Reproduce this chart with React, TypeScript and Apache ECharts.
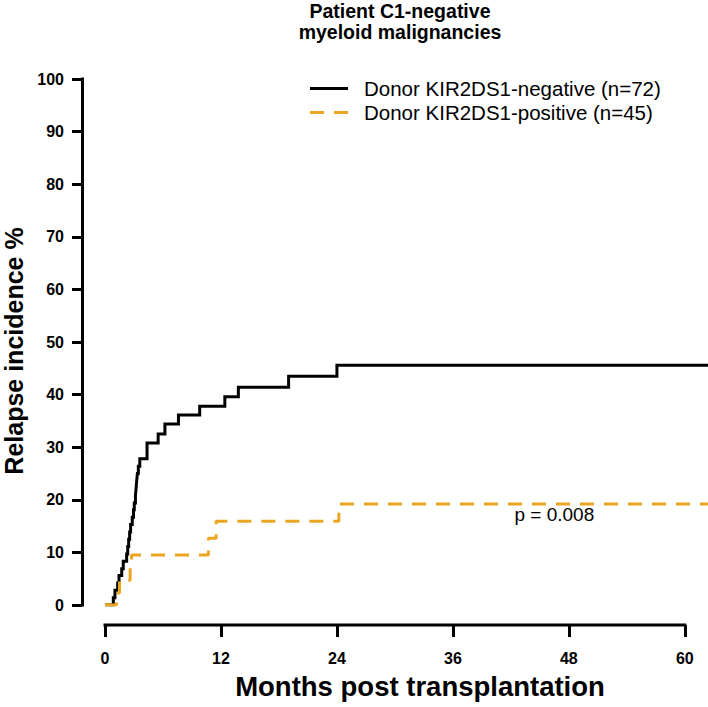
import React, { useEffect, useRef } from "react";
import * as echarts from "echarts";

const titleLines = ["Patient C1-negative", "myeloid malignancies"];
const seriesNames = ["Donor KIR2DS1-negative (n=72)", "Donor KIR2DS1-positive (n=45)"];

const negMonths = [0, 0.86, 1.03, 1.31, 1.45, 1.73, 1.89, 2.24, 2.35, 2.45, 2.55, 2.65, 2.82, 2.95, 3.03, 3.15, 3.22, 3.28, 3.35, 3.45, 3.6, 4.35, 5.5, 6.2, 7.6, 9.8, 12.4, 13.8, 19.0, 24.0, 62.4];
const negValues = [0, 1.4, 2.8, 4.2, 5.6, 6.9, 8.3, 9.7, 11.1, 12.5, 13.9, 15.3, 16.7, 18.1, 19.4, 20.8, 22.2, 23.6, 25.0, 26.4, 27.8, 30.8, 32.5, 34.4, 36.1, 37.8, 39.6, 41.4, 43.5, 45.6, 45.6];

const posMonths = [0, 1.2, 1.5, 2.6, 2.75, 10.7, 11.5, 24.2, 62.4];
const posValues = [0, 2.3, 4.7, 7.1, 9.5, 12.7, 15.9, 19.2, 19.2];

const xTicks = [0, 12, 24, 36, 48, 60];
const xTickStep = 12;
const xDataMax = 62.4;
const yMax = 100;
const yTickStep = 10;
const pValueText = "p = 0.008";
const pValuePos = [46.5, 17.2];

const xTitle = "Months post transplantation";
const yTitle = "Relapse incidence %";

const FONT = "'Liberation Sans', Arial, Helvetica, sans-serif";
const ORANGE = "#EBA521";
const X_AXIS_OFFSET = 20;

export default function App() {
  const ref = useRef<HTMLDivElement>(null);
  useEffect(() => {
    if (!ref.current) return;
    const chart = echarts.init(ref.current, null, { renderer: "svg" });
    const toPairs = (t: number[], v: number[]) => t.map((m, i) => [m, v[i]]);
    const option: any = {
      animation: false,
      backgroundColor: "#ffffff",
      title: {
        text: titleLines.join("\n"),
        left: 395,
        top: -5,
        textAlign: "center",
        textStyle: { fontFamily: FONT, fontSize: 19.5, fontWeight: "bold", color: "#000", lineHeight: 21 },
      },
      legend: {
        orient: "vertical",
        left: 305,
        top: 72,
        itemWidth: 38,
        itemHeight: 3,
        itemGap: 1,
        textStyle: { fontFamily: FONT, fontSize: 20.5, color: "#000", padding: [0, 0, 0, 11], lineHeight: 23 },
        data: [
          { name: seriesNames[0], icon: "path://M0,0H38V3H0Z" },
          { name: seriesNames[1], icon: "path://M0,0H14V3H0Z M24,0H38V3H24Z" },
        ],
      },
      grid: { left: 105, right: 0, top: 79, bottom: 102, outerBoundsMode: "none", containLabel: false },
      xAxis: {
        type: "value",
        min: 0,
        max: xDataMax,
        interval: xTickStep,
        offset: X_AXIS_OFFSET,
        splitLine: { show: false },
        axisLine: { show: false, onZero: false },
        axisTick: { show: true, length: 12, customValues: xTicks, lineStyle: { color: "#000", width: 3 } },
        axisLabel: {
          margin: 25,
          customValues: xTicks,
          fontFamily: FONT,
          fontSize: 16,
          fontWeight: "bold",
          color: "#000",
        },
        name: xTitle,
        nameLocation: "middle",
        nameGap: 47,
        nameTextStyle: {
          fontFamily: FONT,
          fontSize: 27.5,
          fontWeight: "bold",
          color: "#000",
          padding: [0, 0, 0, 27],
        },
      },
      yAxis: {
        type: "value",
        min: 0,
        max: yMax,
        interval: yTickStep,
        offset: 23,
        splitLine: { show: false },
        axisLine: { show: true, onZero: false, lineStyle: { color: "#000", width: 3, cap: "square" } },
        axisTick: { show: true, length: 10, lineStyle: { color: "#000", width: 3 } },
        axisLabel: { margin: 18, fontFamily: FONT, fontSize: 16, fontWeight: "bold", color: "#000" },
        name: yTitle,
        nameLocation: "middle",
        nameGap: 56,
        nameTextStyle: { fontFamily: FONT, fontSize: 25, fontWeight: "bold", color: "#000", padding: [0, 18, 0, 0] },
      },
      series: [
        {
          name: seriesNames[0],
          type: "line",
          step: "end",
          symbol: "none",
          data: toPairs(negMonths, negValues),
          lineStyle: { color: "#000", width: 3, join: "miter", cap: "butt" },
          itemStyle: { color: "#000" },
          z: 2,
          markPoint: {
            symbol: "circle",
            symbolSize: 0,
            data: [
              {
                coord: pValuePos,
                label: {
                  show: true,
                  formatter: pValueText,
                  fontFamily: FONT,
                  fontSize: 19,
                  color: "#000",
                  position: "inside",
                },
              },
            ],
          },
        },
        {
          name: seriesNames[1],
          type: "line",
          step: "end",
          symbol: "none",
          data: toPairs(posMonths, posValues),
          lineStyle: { color: ORANGE, width: 3, type: [14, 10], cap: "butt" },
          itemStyle: { color: ORANGE },
          z: 3,
        },
      ],
    };
    chart.setOption(option);
    const xa = chart.convertToPixel({ xAxisIndex: 0 }, xTicks[0]) as number;
    const xb = chart.convertToPixel({ xAxisIndex: 0 }, xTicks[xTicks.length - 1]) as number;
    const yb = (chart.convertToPixel({ yAxisIndex: 0 }, 0) as number) + X_AXIS_OFFSET;
    chart.setOption({
      graphic: [
        {
          type: "line",
          shape: { x1: xa, y1: yb, x2: xb, y2: yb },
          style: { stroke: "#000", lineWidth: 3, lineCap: "square" },
          z: 10,
        },
      ],
    });
    return () => chart.dispose();
  }, []);
  return (
    <div
      ref={ref}
      style={{ position: "fixed", left: 0, top: 0, width: 708, height: 707, background: "#fff" }}
    />
  );
}
